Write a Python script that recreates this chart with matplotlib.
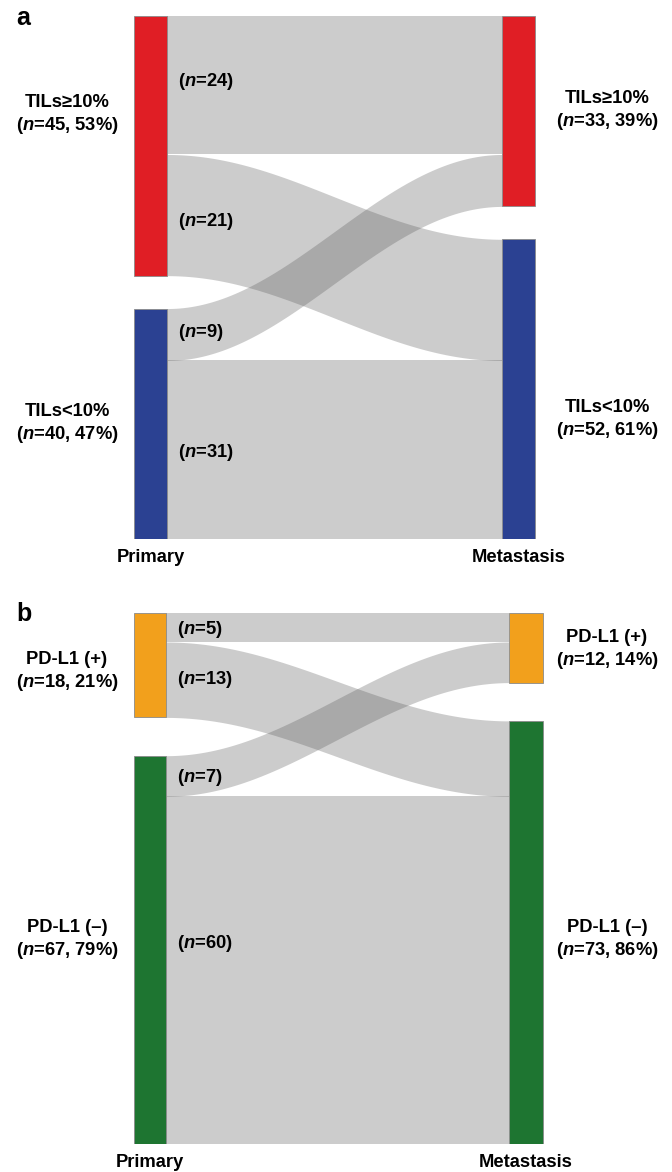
import numpy as np
import matplotlib
matplotlib.use("Agg")
import matplotlib.pyplot as plt
from matplotlib.patches import Rectangle

plt.rcParams['font.family'] = ['Liberation Sans', 'DejaVu Sans']
plt.rcParams['mathtext.fontset'] = 'custom'
plt.rcParams['mathtext.it'] = 'Liberation Sans:italic:bold'
plt.rcParams['mathtext.rm'] = 'Liberation Sans:bold'

# ---------------- data ----------------
stage_names = ["Primary", "Metastasis"]

a_left_names = ["TILs≥10%", "TILs<10%"]
a_right_names = ["TILs≥10%", "TILs<10%"]
a_left_counts = [45, 40]
a_right_counts = [33, 52]
a_left_pct = [53, 47]
a_right_pct = [39, 61]
a_flows = [[24, 21], [9, 31]]
a_colors = ["#e01e25", "#2b4192"]

b_left_names = ["PD-L1 (+)", "PD-L1 (–)"]
b_right_names = ["PD-L1 (+)", "PD-L1 (–)"]
b_left_counts = [18, 67]
b_right_counts = [12, 73]
b_left_pct = [21, 79]
b_right_pct = [14, 86]
b_flows = [[5, 13], [7, 60]]
b_colors = ["#f2a01c", "#1e7531"]

# ---------------- layout ----------------
FW, FH, DPI = 672, 1172, 100
FS = 13.2
fig = plt.figure(figsize=(FW / DPI, FH / DPI), dpi=DPI)

FLOW_COLOR = "#585858"
FLOW_ALPHA = 0.30


def draw_panel(letter, letter_y, top_px, scale, gap, lbar, rbar,
               left_names, right_names, left_counts, right_counts,
               left_pct, right_pct, flows, colors,
               left_label_dy, right_label_dy, flow_label_dy):
    H = sum(left_counts) + gap
    ax = fig.add_axes([0, 1 - (top_px + H * scale) / FH, 1, H * scale / FH])
    ax.set_xlim(0, FW)
    ax.set_ylim(H, 0)
    ax.axis('off')

    ltops = [sum(left_counts[:i]) + i * gap for i in range(len(left_counts))]
    rtops = [sum(right_counts[:i]) + i * gap for i in range(len(right_counts))]

    x0 = lbar[1]
    x1 = rbar[0]
    t = np.linspace(0, 1, 200)
    s = (1 - np.cos(np.pi * t)) / 2
    xs = x0 + (x1 - x0) * t
    for i in range(len(left_counts)):
        for j in range(len(right_counts)):
            w = flows[i][j]
            yl = ltops[i] + sum(flows[i][:j])
            yr = rtops[j] + sum(flows[k][j] for k in range(i))
            top = yl + (yr - yl) * s
            ax.fill_between(xs, top, top + w, color=FLOW_COLOR,
                            alpha=FLOW_ALPHA, lw=0, zorder=1)
            ax.text(lbar[1] + 11, yl + w / 2 + flow_label_dy[i][j],
                    "($n$=%d)" % w, ha='left', va='center',
                    fontsize=FS, fontweight='bold', zorder=5)

    for i, c in enumerate(left_counts):
        ax.add_patch(Rectangle((lbar[0], ltops[i]), lbar[1] - lbar[0], c,
                               facecolor=colors[i], edgecolor='#8a8a8a',
                               lw=0.6, zorder=3))
        ax.text(67, ltops[i] + c / 2 + left_label_dy[i],
                "%s\n($n$=%d, %d%%)" % (left_names[i], c, left_pct[i]),
                ha='center', va='center', fontsize=FS, fontweight='bold',
                linespacing=1.3)
    for j, c in enumerate(right_counts):
        ax.add_patch(Rectangle((rbar[0], rtops[j]), rbar[1] - rbar[0], c,
                               facecolor=colors[j], edgecolor='#8a8a8a',
                               lw=0.6, zorder=3))
        ax.text(607, rtops[j] + c / 2 + right_label_dy[j],
                "%s\n($n$=%d, %d%%)" % (right_names[j], c, right_pct[j]),
                ha='center', va='center', fontsize=FS, fontweight='bold',
                linespacing=1.3)

    yb = H + 18 / scale
    ax.text((lbar[0] + lbar[1]) / 2, yb, stage_names[0], ha='center',
            va='center', fontsize=FS, fontweight='bold', clip_on=False)
    ax.text((rbar[0] + rbar[1]) / 2, yb, stage_names[1], ha='center',
            va='center', fontsize=FS, fontweight='bold', clip_on=False)

    fig.text(16 / FW, 1 - letter_y / FH, letter, ha='left', va='center',
             fontsize=18, fontweight='bold')


draw_panel("a", 18, 16, 5.77, 5.7, (134, 167), (502, 535),
           a_left_names, a_right_names, a_left_counts, a_right_counts,
           a_left_pct, a_right_pct, a_flows, a_colors,
           [-5.3, 0], [0, 5.3], [[-0.7, 1.2], [-0.4, 0.5]])

draw_panel("b", 614, 613, 5.8, 6.6, (134, 166), (509, 543),
           b_left_names, b_right_names, b_left_counts, b_right_counts,
           b_left_pct, b_right_pct, b_flows, b_colors,
           [1.2, -1.7], [0.4, 1.3], [[0.4, 0.0], [0.2, -4.7]])

fig.savefig("out.png", dpi=DPI)
